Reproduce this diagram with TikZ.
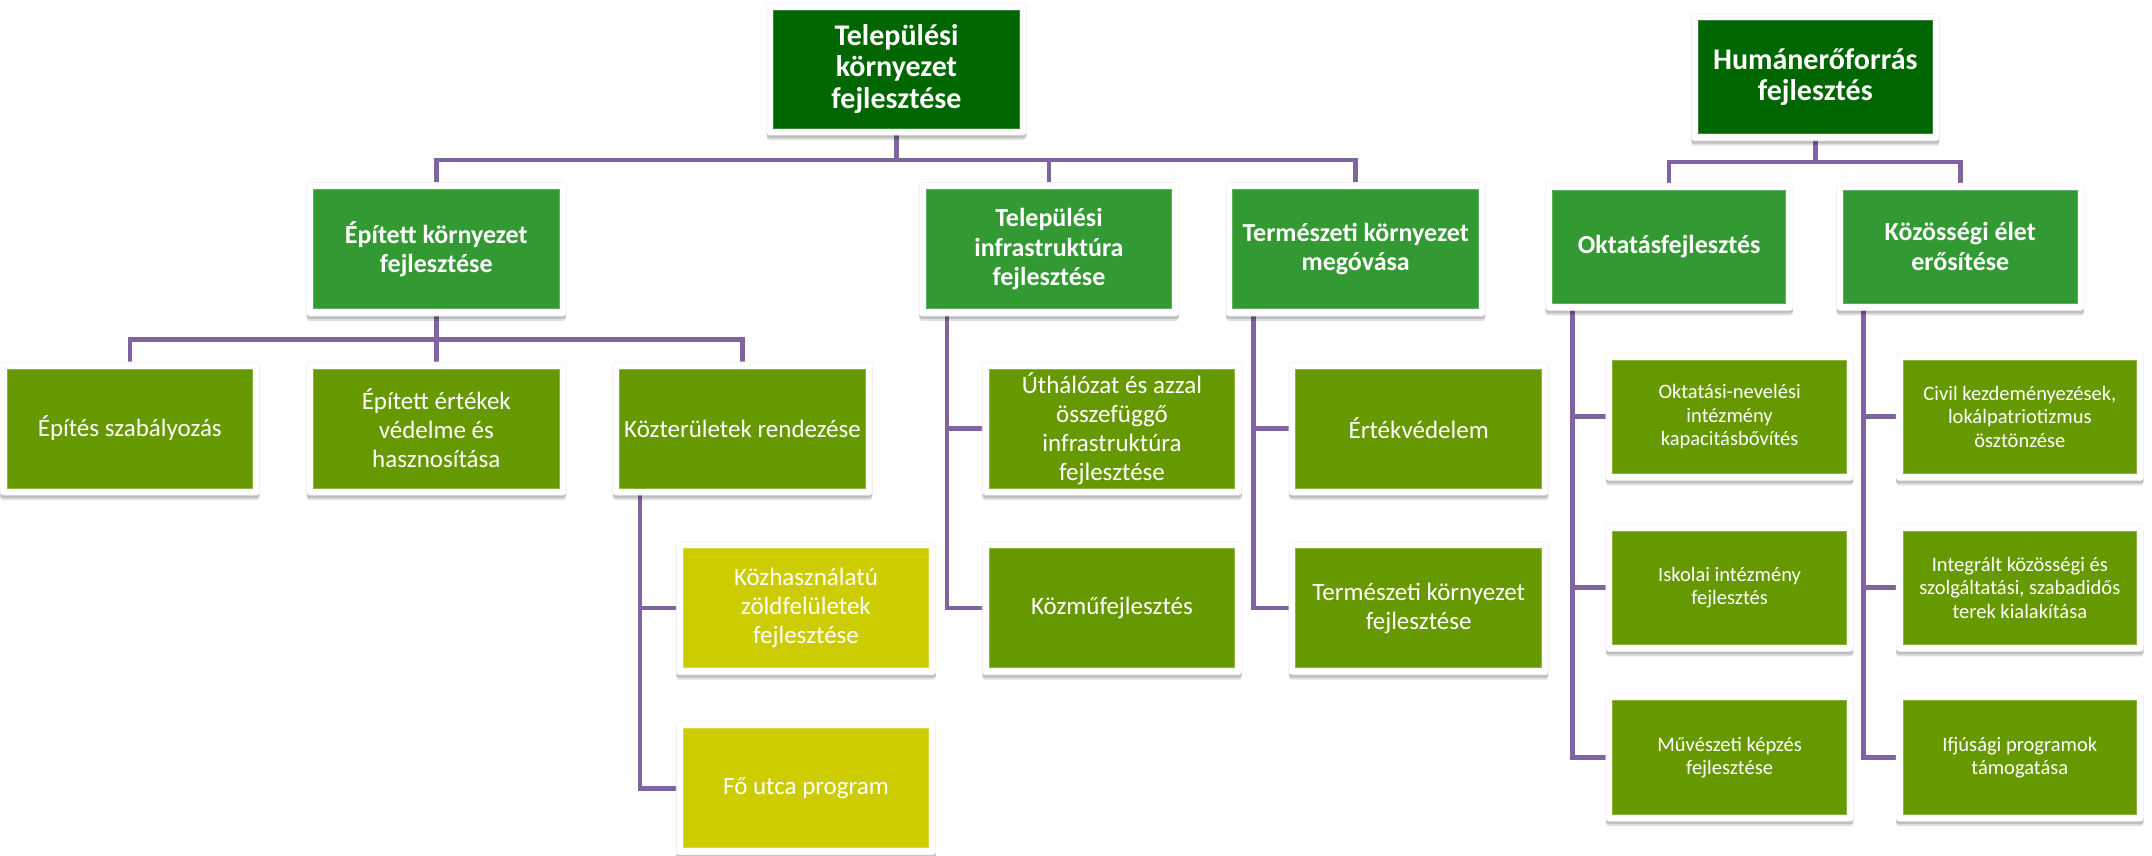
\documentclass[tikz,border=0pt]{standalone}
\usepackage{fontspec}
\setmainfont{Carlito}
\usetikzlibrary{shadows,backgrounds,calc}
\definecolor{cA}{HTML}{006600}
\definecolor{cB}{HTML}{339933}
\definecolor{cC}{HTML}{669900}
\definecolor{cY}{HTML}{CCCC00}
\definecolor{cL}{HTML}{8064A2}
\tikzset{
  frm/.style={fill=white, rounded corners=3pt, inner sep=0pt, draw=black!5, line width=0.6pt,
    drop shadow={shadow xshift=0pt, shadow yshift=-5pt, opacity=0.12, fill=black},
    drop shadow={shadow xshift=0pt, shadow yshift=-3pt, opacity=0.15, fill=black}},
  bxbase/.style={inner sep=0pt, align=center, text=white, line width=1pt},
  lvA/.style={bxbase, fill=cA, draw=cA!80!white, font=\fontsize{30}{31.5}\selectfont\bfseries},
  lvB/.style={bxbase, fill=cB, draw=cB!80!white, font=\fontsize{26}{29.5}\selectfont\bfseries},
  lvC/.style={bxbase, fill=cC, draw=cC!75!white, font=\fontsize{25}{29}\selectfont},
  lvY/.style={bxbase, fill=cY, draw=cY!75!white, font=\fontsize{25}{29}\selectfont},
  lvH/.style={bxbase, fill=cC, draw=cC!75!white, font=\fontsize{20.5}{23.5}\selectfont},
  conn/.style={draw=cL, line width=4.5pt, line join=miter}
}
\newcommand\bx[7]{%
  \node[frm, minimum width=#4+14, minimum height=#5+14] (#1f) at (#2,#3) {};
  \node[#6, minimum width=#4, minimum height=#5] (#1) at (#2,#3) {#7};
}
\begin{document}
\begin{tikzpicture}[x=1pt,y=-1pt]
\useasboundingbox (0,0) rectangle (2152,855);
% left tree
\bx{root}{896.5}{69}{245.5}{118}{lvA}{Települési\\környezet\\fejlesztése}
\bx{epitett}{436.3}{249.2}{245.5}{119.5}{lvB}{Épített környezet\\fejlesztése}
\bx{infra}{1049}{249.2}{245.5}{119.5}{lvB}{Települési\\infrastruktúra\\fejlesztése}
\bx{term}{1355.7}{249.2}{245.5}{119.5}{lvB}{Természeti környezet\\megóvása}
\bx{szab}{129.8}{428.5}{245.5}{119}{lvC}{Építés szabályozás}
\bx{ertekek}{436.3}{428.5}{245.5}{119}{lvC}{Épített értékek\\védelme és\\hasznosítása}
\bx{kozter}{742.5}{428.5}{245.5}{119}{lvC}{Közterületek rendezése}
\bx{utha}{1112}{428.5}{245.5}{119}{lvC}{Úthálózat és azzal\\összefüggő\\infrastruktúra\\fejlesztése}
\bx{ertekv}{1418.7}{428.5}{245.5}{119}{lvC}{Értékvédelem}
\bx{kozhasz}{806}{608.2}{245.5}{119}{lvY}{Közhasználatú\\zöldfelületek\\fejlesztése}
\bx{kozmu}{1112}{608.2}{245.5}{119}{lvC}{Közműfejlesztés}
\bx{termfejl}{1418.7}{608.2}{245.5}{119}{lvC}{Természeti környezet\\fejlesztése}
\bx{foutca}{806}{788.3}{245.5}{119}{lvY}{Fő utca program}
% right tree
\bx{hroot}{1815.3}{77.2}{234}{113}{lvA}{Humánerőforrás\\fejlesztés}
\bx{oktatas}{1669.2}{246.7}{233.5}{113.3}{lvB}{Oktatásfejlesztés}
\bx{kozos}{1960.3}{246.7}{233.5}{113.3}{lvB}{Közösségi élet\\erősítése}
\bx{oktnev}{1729.6}{416.7}{233.5}{113.3}{lvH}{Oktatási-nevelési\\intézmény\\kapacitásbővítés}
\bx{iskolai}{1729.6}{587.7}{233.5}{113.3}{lvH}{Iskolai intézmény\\fejlesztés}
\bx{muv}{1729.6}{757.5}{233.5}{113.3}{lvH}{Művészeti képzés\\fejlesztése}
\bx{civil}{2019.8}{416.7}{233.5}{113.3}{lvH}{Civil kezdeményezések,\\lokálpatriotizmus\\ösztönzése}
\bx{integr}{2019.8}{587.7}{233.5}{113.3}{lvH}{Integrált közösségi és\\szolgáltatási, szabadidős\\terek kialakítása}
\bx{ifju}{2019.8}{757.5}{233.5}{113.3}{lvH}{Ifjúsági programok\\támogatása}
\begin{pgfonlayer}{background}
\draw[conn] (root.south) -- ++(0,31.5) -| (epitett.north);
\draw[conn] (root.south) -- ++(0,31.5) -| (infra.north);
\draw[conn] (root.south) -- ++(0,31.5) -| (term.north);
\draw[conn] (epitett.south) -- ++(0,30) -| (szab.north);
\draw[conn] (epitett.south) -- ++(0,30) -| (ertekek.north);
\draw[conn] (epitett.south) -- ++(0,30) -| (kozter.north);
\draw[conn] ([xshift=20.5pt]kozter.south west) |- (kozhasz.west);
\draw[conn] ([xshift=20.5pt]kozter.south west) |- (foutca.west);
\draw[conn] ([xshift=21pt]infra.south west) |- (utha.west);
\draw[conn] ([xshift=21pt]infra.south west) |- (kozmu.west);
\draw[conn] ([xshift=21pt]term.south west) |- (ertekv.west);
\draw[conn] ([xshift=21pt]term.south west) |- (termfejl.west);
\draw[conn] (hroot.south) -- ++(0,28) -| (oktatas.north);
\draw[conn] (hroot.south) -- ++(0,28) -| (kozos.north);
\draw[conn] ([xshift=20.5pt]oktatas.south west) |- (oktnev.west);
\draw[conn] ([xshift=20.5pt]oktatas.south west) |- (iskolai.west);
\draw[conn] ([xshift=20.5pt]oktatas.south west) |- (muv.west);
\draw[conn] ([xshift=20.5pt]kozos.south west) |- (civil.west);
\draw[conn] ([xshift=20.5pt]kozos.south west) |- (integr.west);
\draw[conn] ([xshift=20.5pt]kozos.south west) |- (ifju.west);
\end{pgfonlayer}
\end{tikzpicture}
\end{document}
